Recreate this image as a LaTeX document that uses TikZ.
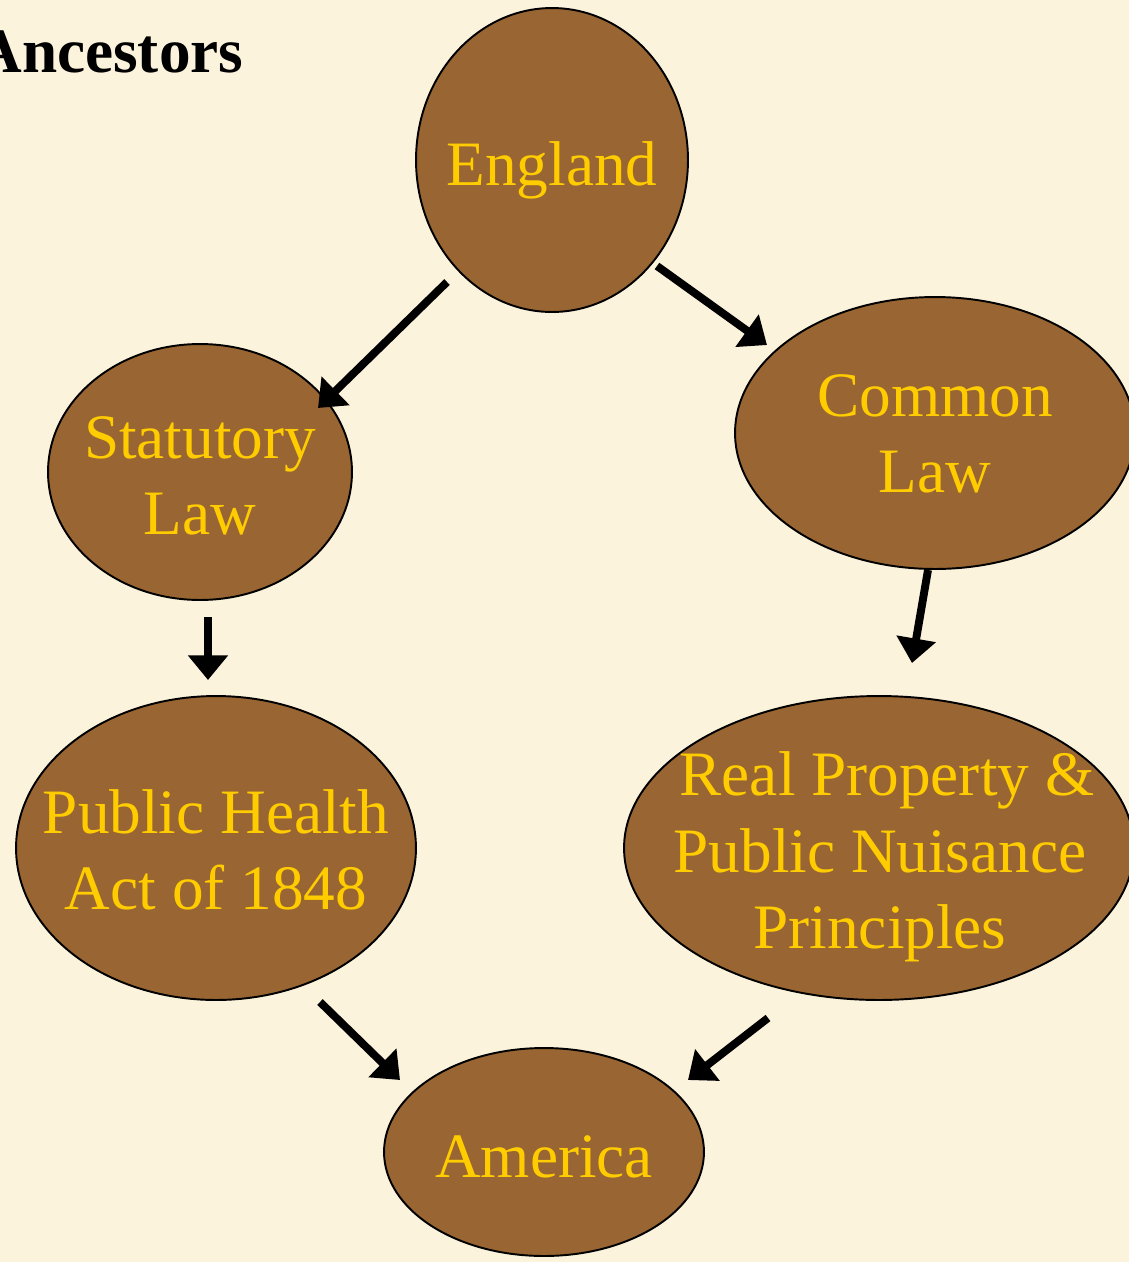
\documentclass[tikz,border=0pt]{standalone}
\usepackage{fontspec}
\setmainfont{Liberation Serif}
\usetikzlibrary{arrows.meta,shapes.geometric}
\definecolor{parch}{RGB}{252,243,221}
\definecolor{brownfill}{RGB}{153,102,51}
\definecolor{gold}{RGB}{255,204,0}
\begin{document}
\begin{tikzpicture}[x=0.02cm,y=-0.02cm,
  bubble/.style={ellipse, draw=black, line width=1.1pt, fill=brownfill, inner sep=0pt},
  btext/.style={text=gold, align=center, font=\fontsize{36}{43.5}\selectfont, inner sep=0pt},
  arr/.style={line width=4.5pt, -{Triangle[length=14pt,width=22pt]}}]
\useasboundingbox (0,0) rectangle (1129,1262);
\clip (0,0) rectangle (1129,1262);
\fill[parch] (0,0) rectangle (1129,1262);

\node[anchor=base west, inner sep=0pt, font=\bfseries\fontsize{36}{43}\selectfont] (title) at (-24,72) {Ancestors};

\node[bubble, minimum width=5.44cm, minimum height=6.08cm] (eng) at (552,160) {};
\node[bubble, minimum width=6.08cm, minimum height=5.12cm] (stat) at (200,472) {};
\node[bubble, minimum width=8.0cm, minimum height=5.44cm] (comm) at (935,433) {};
\node[bubble, minimum width=8.0cm, minimum height=6.08cm] (pha) at (216,848) {};
\node[bubble, minimum width=10.2cm, minimum height=6.08cm] (rpp) at (879,848) {};
\node[bubble, minimum width=6.4cm, minimum height=4.16cm] (ame) at (544,1152) {};

\node[btext, anchor=base] (engt) at (552,185) {England};
\node[btext] (statt) at (200,476) {Statutory\\Law};
\node[btext] (commt) at (935,434) {Common\\Law};
\node[btext] (phat) at (216,850) {Public Health\\Act of 1848};
\node[btext] (rppt) at (880,857) {\hspace*{0.22em}Real Property \&\\Public Nuisance\\Principles};
\node[btext, anchor=base] (amet) at (544,1177) {America};

\coordinate (a1s) at (447,282); \coordinate (a1e) at (318,408);
\coordinate (a2s) at (657,266); \coordinate (a2e) at (767,345);
\coordinate (a3s) at (208,617); \coordinate (a3e) at (208,680);
\coordinate (a4s) at (928,570); \coordinate (a4e) at (912,663);
\coordinate (a5s) at (320,1002); \coordinate (a5e) at (400,1080);
\coordinate (a6s) at (768,1018); \coordinate (a6e) at (688,1080);

\draw[arr] (a1s) -- (a1e);
\draw[arr] (a2s) -- (a2e);
\draw[arr] (a3s) -- (a3e);
\draw[arr] (a4s) -- (a4e);
\draw[arr] (a5s) -- (a5e);
\draw[arr] (a6s) -- (a6e);
\end{tikzpicture}
\end{document}
